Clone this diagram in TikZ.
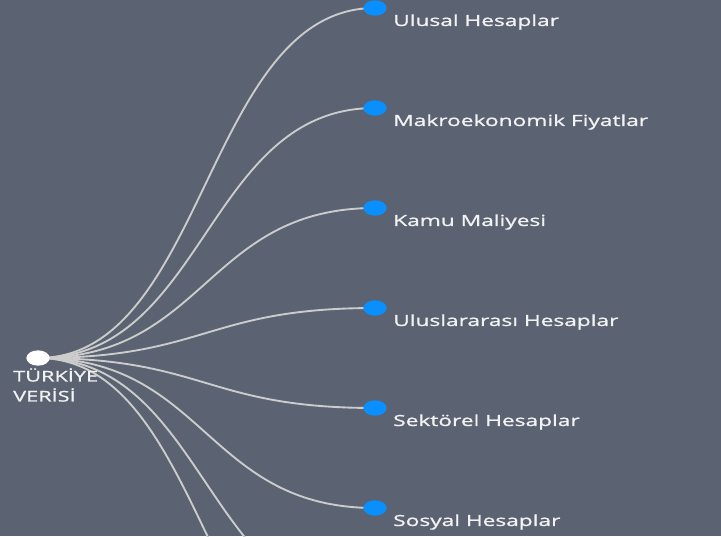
\documentclass[tikz,border=0pt]{standalone}
\usepackage{fontspec}
\setmainfont{Open Sans}
\newfontfamily\labelfont[FakeStretch=1.48, FakeBold=1.1]{Open Sans}
\usetikzlibrary{shapes.geometric}
\definecolor{slate}{HTML}{5B6373}
\definecolor{leafblue}{HTML}{0A8FFF}
\definecolor{linkgray}{HTML}{CCCCCC}
\definecolor{labelwhite}{HTML}{F2F2F2}
\tikzset{
  link/.style={draw=linkgray, line width=1.4pt},
  rootdot/.style={ellipse, fill=white, inner sep=0pt, minimum width=17.5pt, minimum height=11.5pt},
  leafdot/.style={ellipse, fill=leafblue, inner sep=0pt, minimum width=17.5pt, minimum height=11.5pt},
  leaflabel/.style={text=labelwhite, font=\labelfont\fontsize{11.5}{14}\selectfont, inner sep=0pt, anchor=west}
}
\begin{document}
\begin{tikzpicture}[x=0.75pt, y=-0.75pt, line cap=round]
  \fill[slate] (0,0) rectangle (721,536);
  \path[use as bounding box] (0,0) rectangle (721,536);

  \coordinate (root) at (38,358);
  \foreach \i in {0,...,7}
    \coordinate (end\i) at (375,{8+100*\i});

  % links
  \begin{scope}
    \clip (0,0) rectangle (721,536);
    \foreach \i in {0,...,7}
      \draw[link] (root) .. controls +(126pt,0) and +(-127pt,0) .. (end\i);
  \end{scope}

  \node[rootdot] (rootdot) at (root) {};
  \node[leaflabel, anchor=north west, align=left, font=\labelfont\fontsize{11}{15}\selectfont] (rootlabel) at (13,368) {TÜRKİYE\\VERİSİ};

  \foreach \i/\txt in {0/Ulusal Hesaplar, 1/Makroekonomik Fiyatlar, 2/Kamu Maliyesi,
                       3/Uluslararası Hesaplar, 4/Sektörel Hesaplar, 5/Sosyal Hesaplar} {
    \node[leafdot] (leaf\i) at (end\i) {};
    \node[leaflabel] (label\i) at ([xshift=13.5pt, yshift=-10.5pt]end\i) {\txt};
  }
\end{tikzpicture}
\end{document}
